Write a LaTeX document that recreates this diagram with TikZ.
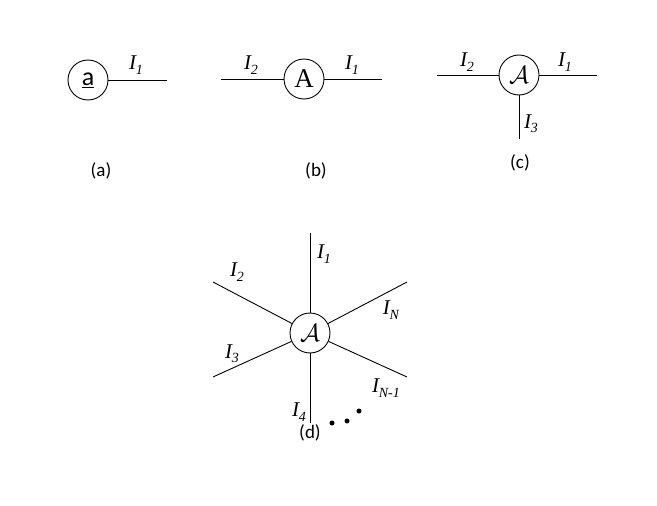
\documentclass[tikz,border=0pt]{standalone}
\usepackage{fontspec}
\setmainfont{Liberation Serif}
\newfontfamily\capfont{Carlito}
\newcommand\Ilab[1]{\itshape I\kern-0.3pt\raisebox{-0.45ex}{\fontsize{14}{14}\selectfont #1}}
\begin{document}
\begin{tikzpicture}[x=1pt,y=-1pt,
  every node/.style={inner sep=0pt},
  vert/.style={circle,draw,line width=0.9pt,minimum size=40pt,inner sep=0pt},
  edge/.style={line width=0.9pt},
  ilab/.style={font=\fontsize{21}{21}\selectfont},
  caplab/.style={font=\capfont\fontsize{19}{19}\selectfont},
  dot/.style={circle,fill,minimum size=5pt,inner sep=0pt}]
\useasboundingbox (0,0) rectangle (657,506);
% (a)
\node[vert,font=\capfont\fontsize{26}{26}\selectfont] (a) at (88,80) {\underline{a}};
\coordinate (a1) at (167,80);
\draw[edge] (a) -- (a1);
\node[ilab] (la1) at (136,65) {\Ilab{1}};
\node[caplab] (capa) at (101,171) {(a)};
% (b)
\node[vert,font=\fontsize{27}{27}\selectfont] (b) at (304,79) {A};
\coordinate (b1) at (382,79);
\coordinate (b2) at (221,79);
\draw[edge] (b2) -- (b) -- (b1);
\node[ilab] (lb2) at (251,65) {\Ilab{2}};
\node[ilab] (lb1) at (352,65) {\Ilab{1}};
\node[caplab] (capb) at (316,171) {(b)};
% (c)
\node[vert,font=\fontsize{27}{27}\selectfont] (c) at (519,75) {$\mathcal{A}$};
\coordinate (c1) at (597,75);
\coordinate (c2) at (437,75);
\coordinate (c3) at (519,139);
\draw[edge] (c2) -- (c) -- (c1);
\draw[edge] (c) -- (c3);
\node[ilab] (lc2) at (467,62) {\Ilab{2}};
\node[ilab] (lc1) at (565,62) {\Ilab{1}};
\node[ilab] (lc3) at (531,124) {\Ilab{3}};
\node[caplab] (capc) at (520,163) {(c)};
% (d)
\node[vert,font=\fontsize{27}{27}\selectfont] (d) at (310,333) {$\mathcal{A}$};
\coordinate (d1) at (310,233);
\coordinate (d4) at (310,423);
\coordinate (d2) at (213,282);
\coordinate (dN) at (407,282);
\coordinate (d3) at (213,377);
\coordinate (dN1) at (407,377);
\foreach \e in {d1,d2,d3,d4,dN,dN1} \draw[edge] (d) -- (\e);
\node[ilab] (ld1) at (324,254) {\Ilab{1}};
\node[ilab] (ld2) at (237,272) {\Ilab{2}};
\node[ilab] (ldN) at (391,310) {\Ilab{N}};
\node[ilab] (ld3) at (232,354) {\Ilab{3}};
\node[ilab] (ldN1) at (386,388) {\Ilab{N-1}};
\node[ilab] (ld4) at (299,412) {\Ilab{4}};
\node[caplab] (capd) at (310,433) {(d)};
\node[dot] (p1) at (332,423) {};
\node[dot] (p2) at (347,421) {};
\node[dot] (p3) at (359,411) {};
\end{tikzpicture}
\end{document}
